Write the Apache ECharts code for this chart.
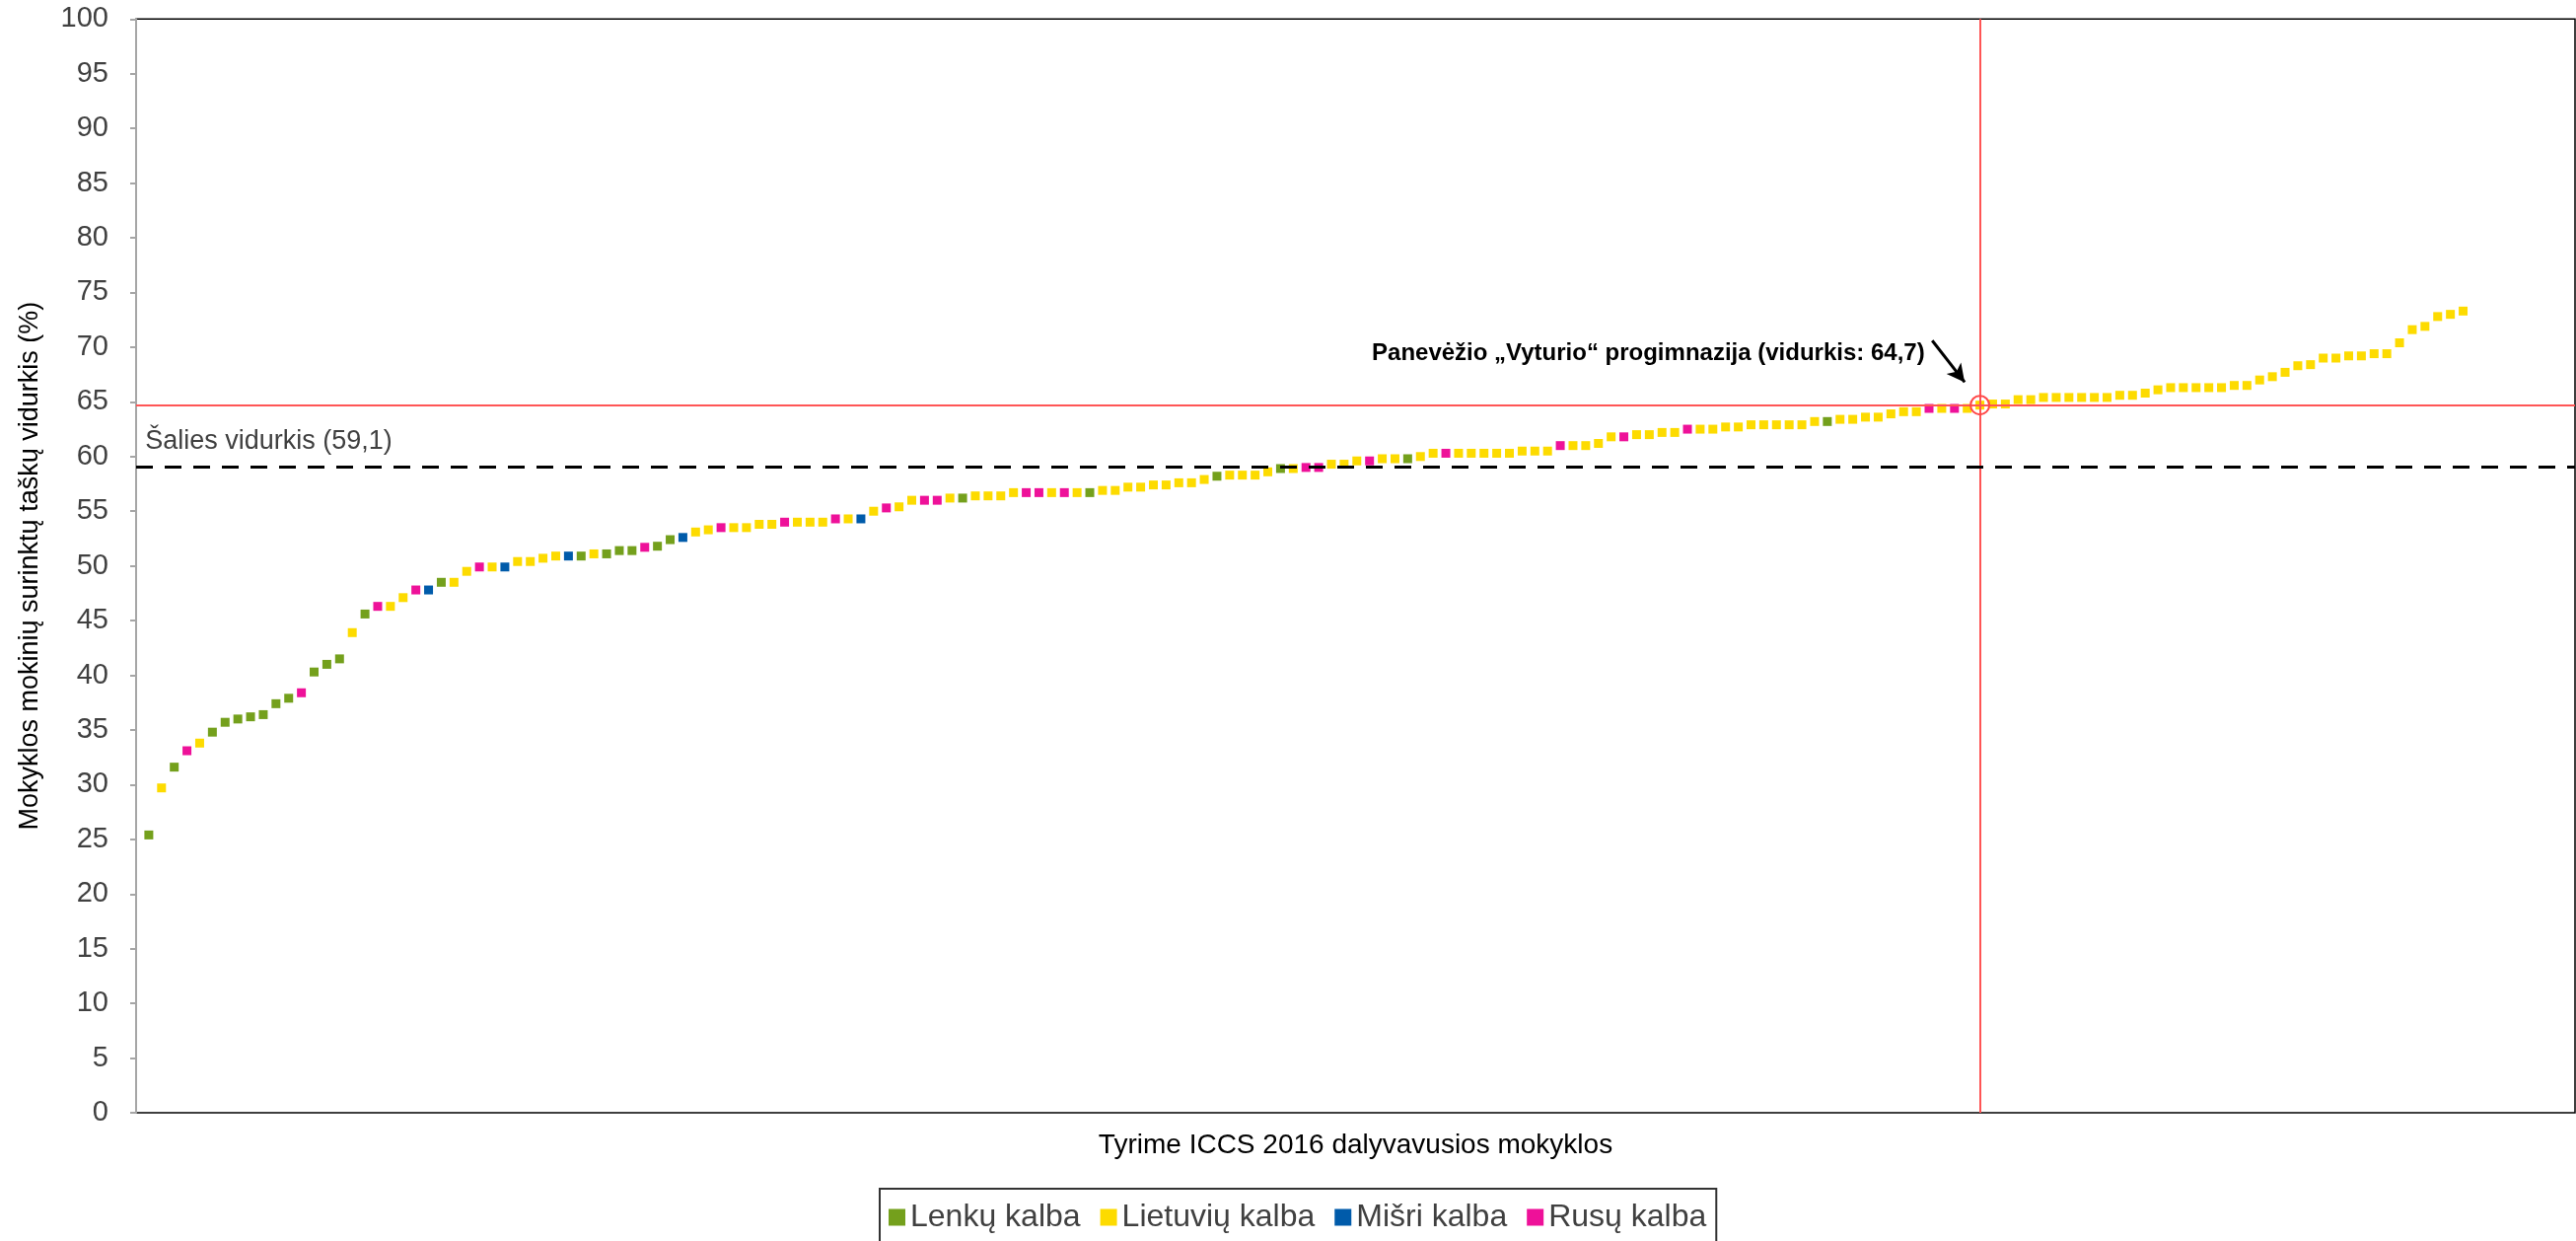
<!DOCTYPE html>
<html><head><meta charset="utf-8">
<script src="https://cdn.jsdelivr.net/npm/echarts@6/dist/echarts.min.js"></script>
<style>html,body{margin:0;padding:0;background:#fff}#c{width:2612px;height:1258px}</style>
</head><body><div id="c"></div>
<script>
// ---- data ----
const values = [25.4,29.7,31.6,33.1,33.8,34.8,35.7,36.0,36.2,36.4,
37.4,37.9,38.4,40.3,41.0,41.5,43.9,45.6,46.3,46.3,
47.1,47.8,47.8,48.5,48.5,49.5,49.9,49.9,49.9,50.4,
50.4,50.7,50.9,50.9,50.9,51.1,51.1,51.4,51.4,51.7,
51.8,52.4,52.6,53.1,53.3,53.5,53.5,53.5,53.8,53.8,
54.0,54.0,54.0,54.0,54.3,54.3,54.3,55.0,55.3,55.4,
56.0,56.0,56.0,56.2,56.2,56.4,56.4,56.4,56.7,56.7,
56.7,56.7,56.7,56.7,56.7,56.9,56.9,57.2,57.2,57.4,
57.4,57.6,57.6,57.9,58.2,58.3,58.3,58.3,58.6,58.9,
58.9,59.0,59.0,59.3,59.3,59.6,59.6,59.8,59.8,59.8,
60.0,60.3,60.3,60.3,60.3,60.3,60.3,60.3,60.5,60.5,
60.5,61.0,61.0,61.0,61.2,61.8,61.8,62.0,62.0,62.2,
62.2,62.5,62.5,62.5,62.7,62.7,62.9,62.9,62.9,62.9,
62.9,63.2,63.2,63.4,63.4,63.6,63.6,63.9,64.1,64.1,
64.4,64.4,64.4,64.4,64.7,64.8,64.8,65.2,65.2,65.4,
65.4,65.4,65.4,65.4,65.4,65.6,65.6,65.8,66.1,66.3,
66.3,66.3,66.3,66.3,66.5,66.5,67.0,67.3,67.7,68.3,
68.4,69.0,69.0,69.2,69.2,69.4,69.4,70.4,71.6,71.9,
72.8,73.0,73.3];
// L = Lenkų, T = Lietuvių, M = Mišri, R = Rusų
const languages = ['L','T','L','R','T','L','L','L','L','L',
'L','L','R','L','L','L','T','L','R','T',
'T','R','M','L','T','T','R','T','M','T',
'T','T','T','M','L','T','L','L','L','R',
'L','L','M','T','T','R','T','T','T','T',
'R','T','T','T','R','T','M','T','R','T',
'T','R','R','T','L','T','T','T','T','R',
'R','T','R','T','L','T','T','T','T','T',
'T','T','T','T','L','T','T','T','T','L',
'T','R','R','T','T','T','R','T','T','L',
'T','T','R','T','T','T','T','T','T','T',
'T','R','T','T','T','T','R','T','T','T',
'T','R','T','T','T','T','T','T','T','T',
'T','T','L','T','T','T','T','T','T','T',
'R','T','R','T','T','T','T','T','T','T',
'T','T','T','T','T','T','T','T','T','T',
'T','T','T','T','T','T','T','T','T','T',
'T','T','T','T','T','T','T','T','T','T',
'T','T','T'];
const seriesNames = ['Lenkų kalba','Lietuvių kalba','Mišri kalba','Rusų kalba'];
const seriesCodes = ['L','T','M','R'];
const seriesColors = ['#74A01C','#FDDB00','#005BAA','#EE1199'];
const yMin = 0, yMax = 100, yStep = 5;
const nationalAvg = 59.1;
const avgLabel = 'Šalies vidurkis (59,1)';
const refIndex = 145;            // position of the highlighted school (1-based)
const refValue = 64.7;
const refLabel = 'Panevėžio \u201EVyturio\u201C progimnazija (vidurkis: 64,7)';
const xTitle = 'Tyrime ICCS 2016 dalyvavusios mokyklos';
const yTitle = 'Mokyklos mokinių surinktų taškų vidurkis (%)';
// annotation anchors (data space)
const avgLabelAnchor = [0.68, 61.4];
const refLabelAnchor = [140.7, 69.45];
const arrowFrom = [141.25, 70.6];
const arrowTo = [143.8, 66.8];

// ---- chart ----
const FONT = 'Liberation Sans';
const chart = echarts.init(document.getElementById('c'), null, {renderer: 'canvas'});
const series = seriesCodes.map((code, k) => ({
  name: seriesNames[k],
  type: 'scatter',
  symbol: 'rect',
  symbolSize: 9,
  itemStyle: {color: seriesColors[k], opacity: 1},
  data: values.map((v, i) => [i + 1, v]).filter((d, i) => languages[i] === code),
  silent: true,
  z: 3
}));
series.push({
  name: 'ref',
  type: 'scatter',
  data: [[refIndex, values[refIndex - 1]]],
  symbol: 'circle',
  symbolSize: 19,
  itemStyle: {color: 'rgba(0,0,0,0)', borderColor: '#FF4747', borderWidth: 2, opacity: 1},
  silent: true,
  z: 6,
  markLine: {
    silent: true,
    animation: false,
    symbol: ['none', 'none'],
    label: {show: false},
    data: [
      {xAxis: refIndex, lineStyle: {color: '#FF5555', width: 2, type: 'solid'}},
      {yAxis: refValue, lineStyle: {color: '#FF5555', width: 2, type: 'solid'}},
      {yAxis: nationalAvg, lineStyle: {color: '#000000', width: 3, type: [17, 12]}},
      [{coord: arrowFrom, symbol: 'none', lineStyle: {color: '#000', width: 3, type: 'solid'}},
       {coord: arrowTo, symbol: 'arrow', symbolSize: [14, 18]}]
    ]
  },
  markPoint: {
    silent: true,
    animation: false,
    symbol: 'rect',
    symbolSize: 1,
    itemStyle: {color: 'rgba(0,0,0,0)'},
    data: [
      {coord: avgLabelAnchor, label: {show: true, position: 'right', distance: 0, formatter: avgLabel,
        color: '#404040', fontSize: 27, fontFamily: FONT}},
      {coord: refLabelAnchor, label: {show: true, position: 'left', distance: 0, formatter: refLabel,
        color: '#000', fontSize: 24, fontWeight: 'bold', fontFamily: FONT}}
    ]
  }
});

chart.setOption({
  animation: false,
  backgroundColor: '#ffffff',
  textStyle: {fontFamily: FONT},
  grid: {left: 138, right: 1, top: 19.3, bottom: 130, show: true, borderColor: '#000', borderWidth: 1.5, backgroundColor: '#fff'},
  xAxis: {
    type: 'value', min: 0, max: 191.8,
    axisLine: {show: false}, axisTick: {show: false}, axisLabel: {show: false}, splitLine: {show: false},
    name: xTitle, nameLocation: 'middle', nameGap: 19,
    nameTextStyle: {fontSize: 28, color: '#000', fontFamily: FONT}
  },
  yAxis: {
    type: 'value', min: yMin, max: yMax, interval: yStep, offset: 11,
    axisLine: {show: true, lineStyle: {color: '#A6A6A6', width: 2}},
    axisTick: {show: true, inside: false, length: 6, lineStyle: {color: '#A6A6A6', width: 2}},
    axisLabel: {color: '#404040', fontSize: 29, margin: 17, fontFamily: FONT},
    splitLine: {show: false},
    name: yTitle, nameLocation: 'middle', nameGap: 83, nameRotate: 90,
    nameTextStyle: {fontSize: 27, color: '#000', fontFamily: FONT}
  },
  legend: {
    data: seriesNames,
    left: 892, top: 1205,
    orient: 'horizontal',
    icon: 'rect', itemWidth: 17, itemHeight: 17, itemGap: 20,
    padding: [13, 10, 40, 9],
    borderColor: '#333', borderWidth: 2,
    textStyle: {fontSize: 32, color: '#404040', fontFamily: FONT},
    selectedMode: false
  },
  series: series
});
</script>
</body></html>
